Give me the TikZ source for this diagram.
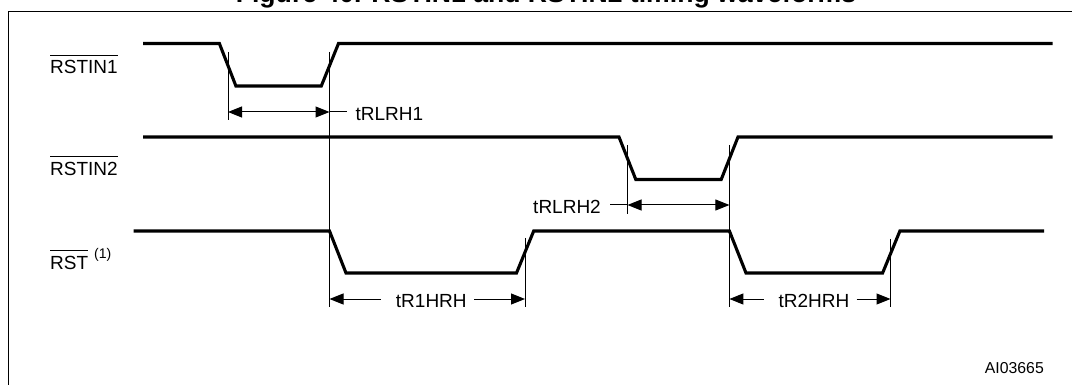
\documentclass[tikz,border=0pt]{standalone}
\usepackage{fontspec}
\setmainfont{Liberation Sans}
\usetikzlibrary{arrows.meta}
\newcommand{\barname}[1]{\vbox{\hrule height 0.9pt \kern 5.2pt \hbox{#1}}}
\tikzset{
	wave/.style={line width=3.1pt, line join=miter},
	tick/.style={line width=1pt},
	span/.style={line width=1pt, {Triangle[length=14pt,width=11pt]}-{Triangle[length=14pt,width=11pt]}},
	spanl/.style={line width=1pt, {Triangle[length=14pt,width=11pt]}-},
	spanr/.style={line width=1pt, -{Triangle[length=14pt,width=11pt]}},
	lab/.style={inner sep=0pt, font=\fontsize{19}{21}\selectfont}
}
\begin{document}
\begin{tikzpicture}[x=1pt,y=-1pt]
	\useasboundingbox (0,0) rectangle (1072,385);

	% Title and frame
	\node[inner sep=0pt, anchor=base, font=\bfseries\fontsize{26.6}{28}\selectfont] (title) at (546,3) {Figure 40. RSTIN1 and RSTIN2 timing waveforms};
	\draw[line width=1.2pt] (8.5,385) -- (8.5,11.5) -- (1072,11.5);

	% Signal names
	\node[lab, anchor=base west] (nameA) at (50,74) {\barname{RSTIN1}};
	\node[lab, anchor=base west] (nameB) at (50,175.7) {\barname{RSTIN2}};
	\node[lab, anchor=base west] (nameC) at (50,269.3) {\barname{RST}\hspace{6pt}\raisebox{10.5pt}{\fontsize{14}{15}\selectfont (1)}};

	% Waveforms
	\draw[wave] (143,43.5) -- (219.4,43.5) -- (235.9,86) -- (321.3,86) -- (338.5,43.5) -- (1052.6,43.5);
	\draw[wave] (143,137) -- (619,137) -- (635.8,179.5) -- (721.2,179.5) -- (738,137) -- (1052.6,137);
	\draw[wave] (133.6,231) -- (329.5,231) -- (346,273) -- (516.5,273) -- (533.7,231) -- (729.4,231) -- (746,273) -- (882.6,273) -- (899.9,231) -- (1044,231);

	% Vertical ticks
	\draw[tick] (228,52) -- (228,120);
	\draw[tick] (329.5,52) -- (329.5,307);
	\draw[tick] (627.5,145) -- (627.5,214);
	\draw[tick] (729.4,145) -- (729.4,307);
	\draw[tick] (525,238) -- (525,307);
	\draw[tick] (890.5,239) -- (890.5,307);

	% tRLRH1
	\node[lab, anchor=base west] (labA) at (355.4,120.5) {tRLRH1};
	\coordinate (endA) at (347,112);
	\coordinate (aL) at (228,112);
	\coordinate (aR) at (329.5,112);
	\draw[span] (aL) -- (aR);
	\draw[tick] (aR) -- (endA);

	% tRLRH2
	\node[lab, anchor=base east] (labB) at (601,214) {tRLRH2};
	\coordinate (endB) at (610,205);
	\coordinate (bL) at (627.5,205);
	\coordinate (bR) at (729.4,205);
	\draw[span] (bL) -- (bR);
	\draw[tick] (endB) -- (bL);

	% tR1HRH
	\node[lab, anchor=base] (labC) at (431.3,307.5) {tR1HRH};
	\coordinate (cL) at (329.5,299);
	\coordinate (cR) at (525,299);
	\draw[spanl] (cL) -- (380.5,299);
	\draw[spanr] (474,299) -- (cR);

	% tR2HRH
	\node[lab, anchor=base] (labD) at (814,307.5) {tR2HRH};
	\coordinate (dL) at (729.4,299);
	\coordinate (dR) at (890.5,299);
	\draw[spanl] (dL) -- (764,299);
	\draw[spanr] (856.6,299) -- (dR);

	% Drawing code
	\node[inner sep=0pt, anchor=base east, font=\fontsize{15.8}{17}\selectfont] (code) at (1044,373) {AI03665};
\end{tikzpicture}
\end{document}
